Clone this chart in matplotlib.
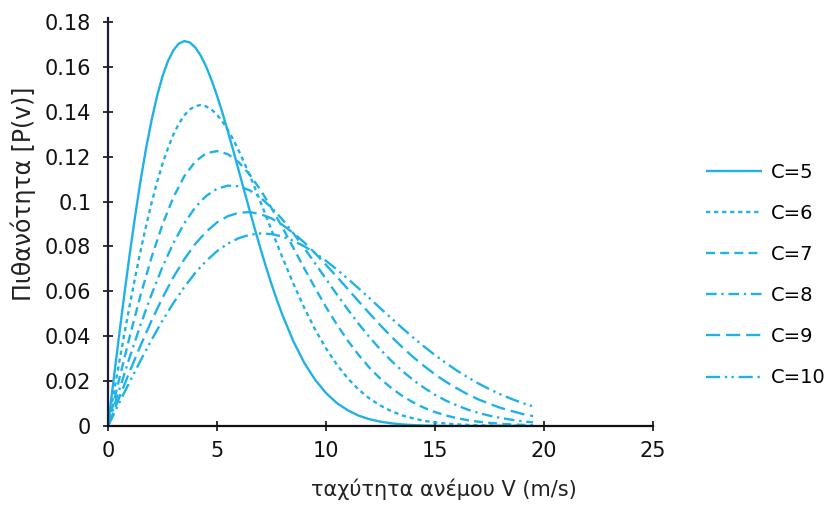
import matplotlib
matplotlib.use("Agg")
import matplotlib.pyplot as plt

plt.rcParams['font.family'] = ['DejaVu Sans']

# Wind speed samples (m/s): a finer grid for the two sharpest curves
v_fine = [0.0, 0.25, 0.5, 0.75, 1.0, 1.25, 1.5, 1.75, 2.0, 2.25, 2.5, 2.75,
          3.0, 3.25, 3.5, 3.75, 4.0, 4.25, 4.5, 4.75, 5.0, 5.25, 5.5, 5.75,
          6.0, 6.25, 6.5, 6.75, 7.0, 7.25, 7.5, 7.75, 8.0,
          8.5, 9.0, 9.5, 10.0, 10.5, 11.0, 11.5, 12.0, 12.5, 13.0, 13.5,
          14.0, 14.5, 15.0, 15.5, 16.0, 16.5, 17.0, 17.5, 18.0, 18.5, 19.0,
          19.5]
v = [0.0, 0.5, 1.0, 1.5, 2.0, 2.5, 3.0, 3.5, 4.0, 4.5, 5.0, 5.5, 6.0, 6.5, 7.0,
     7.5, 8.0, 8.5, 9.0, 9.5, 10.0, 10.5, 11.0, 11.5, 12.0, 12.5, 13.0, 13.5,
     14.0, 14.5, 15.0, 15.5, 16.0, 16.5, 17.0, 17.5, 18.0, 18.5, 19.0, 19.5]

# Probability P(v) for each scale parameter C
p_c5 = [0.0, 0.0200, 0.0396, 0.0587, 0.0769, 0.0939, 0.1097, 0.1239, 0.1363,
        0.1470, 0.1558, 0.1626, 0.1674, 0.1704, 0.1715, 0.1709, 0.1687, 0.1651,
        0.1602, 0.1541, 0.1472, 0.1395, 0.1312, 0.1226, 0.1137, 0.1048, 0.0960,
        0.0873, 0.0789, 0.0708, 0.0632, 0.0561, 0.0495,
        0.0378, 0.0282, 0.0206, 0.0147, 0.0102, 0.0070, 0.0046, 0.0030, 0.0019,
        0.0012, 0.0007, 0.0004, 0.0002, 0.0001, 0.0, 0.0, 0.0, 0.0, 0.0, 0.0,
        0.0, 0.0, 0.0]
p_c6 = [0.0, 0.0139, 0.0276, 0.0410, 0.0540, 0.0665, 0.0783, 0.0893, 0.0994,
        0.1086, 0.1168, 0.1238, 0.1298, 0.1347, 0.1384, 0.1410, 0.1425, 0.1430,
        0.1424, 0.1410, 0.1387, 0.1356, 0.1319, 0.1275, 0.1226, 0.1173, 0.1117,
        0.1058, 0.0997, 0.0935, 0.0873, 0.0812, 0.0751,
        0.0635, 0.0527, 0.0430, 0.0346, 0.0273, 0.0212, 0.0162, 0.0122, 0.0091,
        0.0066, 0.0047, 0.0034, 0.0023, 0.0016, 0.0011, 0.0007, 0.0005, 0.0003,
        0.0002, 0.0001, 0.0001, 0.0001, 0.0]
p_c7 = [0.0, 0.0203, 0.0400, 0.0585, 0.0752, 0.0898, 0.1019, 0.1113, 0.1178,
        0.1215, 0.1225, 0.1211, 0.1175, 0.1120, 0.1051, 0.0971, 0.0885, 0.0794,
        0.0703, 0.0615, 0.0530, 0.0452, 0.0380, 0.0316, 0.0259, 0.0210, 0.0169,
        0.0134, 0.0105, 0.0081, 0.0062, 0.0047, 0.0035, 0.0026, 0.0019, 0.0014,
        0.0010, 0.0007, 0.0005, 0.0003]
p_c8 = [0.0, 0.0156, 0.0308, 0.0453, 0.0587, 0.0709, 0.0815, 0.0903, 0.0974,
        0.1025, 0.1057, 0.1071, 0.1068, 0.1050, 0.1017, 0.0973, 0.0920, 0.0859,
        0.0793, 0.0725, 0.0655, 0.0586, 0.0519, 0.0455, 0.0395, 0.0340, 0.0290,
        0.0245, 0.0205, 0.0170, 0.0139, 0.0113, 0.0092, 0.0073, 0.0058, 0.0046,
        0.0036, 0.0028, 0.0021, 0.0016]
p_c9 = [0.0, 0.0123, 0.0244, 0.0360, 0.0470, 0.0571, 0.0663, 0.0743, 0.0811,
        0.0865, 0.0907, 0.0935, 0.0950, 0.0953, 0.0944, 0.0925, 0.0896, 0.0860,
        0.0818, 0.0770, 0.0718, 0.0665, 0.0610, 0.0555, 0.0501, 0.0448, 0.0398,
        0.0351, 0.0307, 0.0267, 0.0230, 0.0197, 0.0168, 0.0141, 0.0118, 0.0099,
        0.0081, 0.0067, 0.0054, 0.0044]
p_c10 = [0.0, 0.0100, 0.0198, 0.0293, 0.0384, 0.0470, 0.0548, 0.0619, 0.0682,
         0.0735, 0.0779, 0.0813, 0.0837, 0.0852, 0.0858, 0.0855, 0.0844, 0.0825,
         0.0801, 0.0771, 0.0736, 0.0697, 0.0656, 0.0613, 0.0569, 0.0524, 0.0480,
         0.0436, 0.0394, 0.0354, 0.0316, 0.0281, 0.0247, 0.0217, 0.0189, 0.0164,
         0.0141, 0.0121, 0.0103, 0.0087]

labels = ["C=5", "C=6", "C=7", "C=8", "C=9", "C=10"]
x_ticks = [0, 5, 10, 15, 20, 25]
y_ticks = [0, 0.02, 0.04, 0.06, 0.08, 0.1, 0.12, 0.14, 0.16, 0.18]
y_tick_labels = ["0", "0.02", "0.04", "0.06", "0.08", "0.1", "0.12", "0.14", "0.16", "0.18"]

color = "#20b2e7"
styles = [
    (0, ()),
    (0, (1.8, 1.6)),
    (0, (3.8, 2.2)),
    (0, (4.5, 2.0, 1.0, 2.0)),
    (0, (6.0, 2.5)),
    (0, (6.0, 2.0, 1.0, 1.8, 1.0, 2.0)),
]
xs_list = [v_fine, v_fine, v, v, v, v]
series = [p_c5, p_c6, p_c7, p_c8, p_c9, p_c10]

fig = plt.figure(figsize=(8.26, 5.05), dpi=100)
ax = fig.add_axes([108 / 826, 79 / 505, 545 / 826, 404 / 505])

for xs, vals, ls, lab in zip(xs_list, series, styles, labels):
    ax.plot(xs, vals, color=color, linestyle=ls, linewidth=1.7, label=lab,
            solid_joinstyle="round")

ax.set_xlim(0, 25)
ax.set_ylim(0, 0.18)
ax.set_xticks(x_ticks)
ax.set_xticklabels([str(t) for t in x_ticks])
ax.set_yticks(y_ticks)
ax.set_yticklabels(y_tick_labels)

for side in ("top", "right"):
    ax.spines[side].set_visible(False)
ax.spines["left"].set_color("#1c1c3a")
ax.spines["left"].set_linewidth(1.6)
ax.spines["bottom"].set_color("#111111")
ax.spines["bottom"].set_linewidth(1.6)
ax.spines["left"].set_bounds(0, 0.182)

ax.tick_params(axis="both", direction="inout", length=7, width=1.2,
               labelsize=15, colors="#111111")
ax.tick_params(axis="y", pad=8.5)
ax.tick_params(axis="x", pad=7.5)

ax.set_xlabel("ταχύτητα ανέμου V (m/s)", fontsize=15, color="#222222")
ax.xaxis.set_label_coords((444 - 108) / 545, -(479 - 426) / 404)
ax.set_ylabel("Πιθανότητα [P(v)]", fontsize=17, color="#222222")
ax.yaxis.set_label_coords(-(108 - 36) / 545, (426 - 194) / 404)

fig.legend(loc="center left", bbox_to_anchor=(706 / 826, 1 - 275 / 505),
           frameon=False, fontsize=14, handlelength=2.9, handletextpad=0.45,
           labelspacing=1.14, borderpad=0, borderaxespad=0)

fig.savefig("out.png", dpi=100)
